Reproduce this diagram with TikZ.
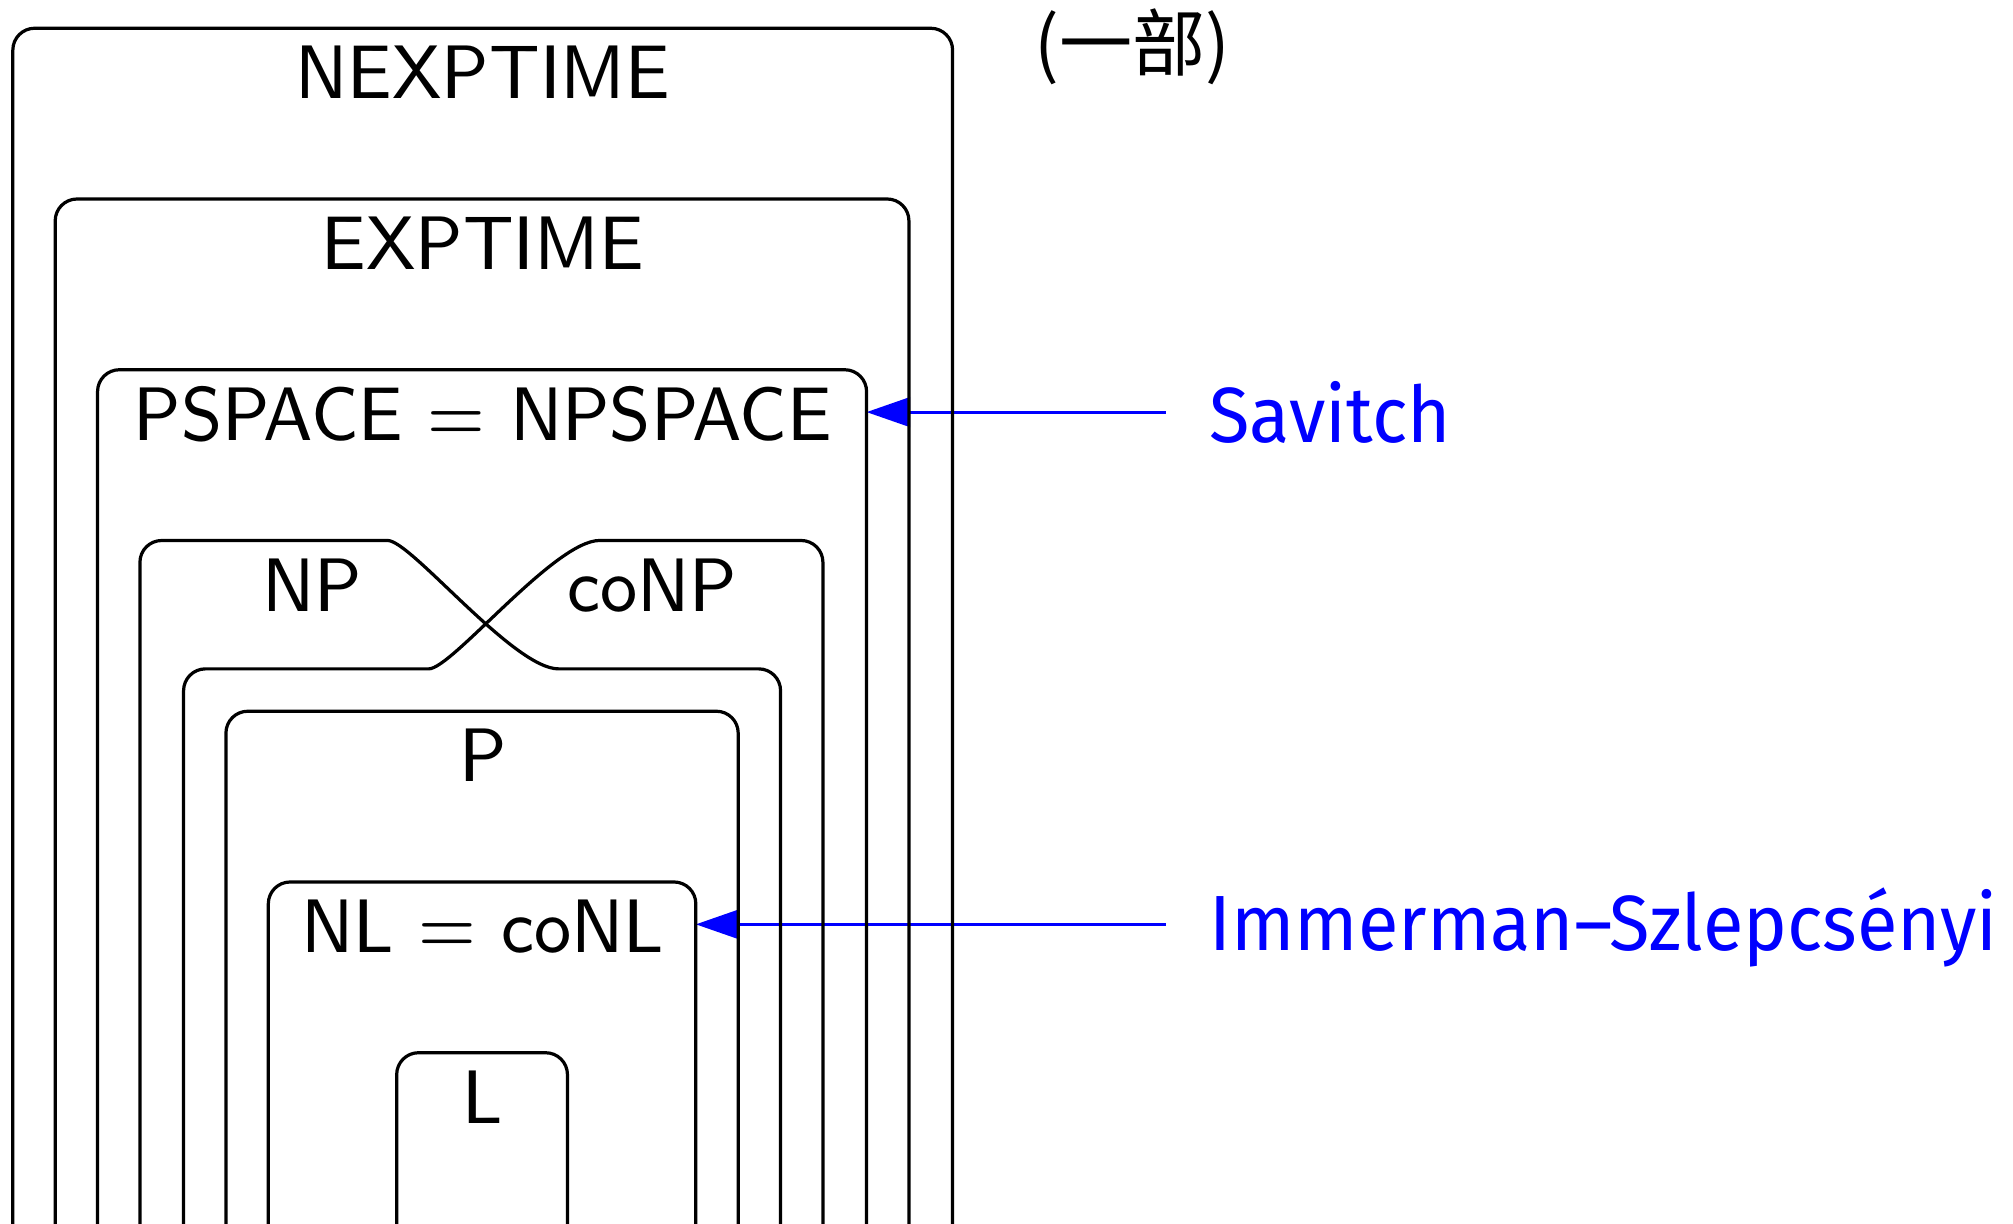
\documentclass[tikz,border=0pt]{standalone}
\usepackage{fontspec}
\usepackage{graphicx}
\usetikzlibrary{arrows.meta}
\newfontfamily\thmfont{Fira Sans}
\newfontfamily\cjkfont{Noto Sans CJK SC}
\tikzset{
  classline/.style={line width=2.5pt},
  roundbox/.style={classline, rounded corners=17pt},
  classname/.style={anchor=base, inner sep=0pt,
    font=\sffamily\fontsize{8}{9.6}\selectfont,
    xscale=6.8, yscale=7.375, transform shape},
  thmname/.style={anchor=base west, inner sep=0pt, text=blue,
    font=\thmfont\fontsize{61}{72}\selectfont},
  thmarrow/.style={blue, line width=2.3pt,
    -{Triangle[length=34pt,width=23pt]}},
}
\newcommand\thmtext[1]{\scalebox{0.945}[1]{#1}}
\begin{document}
\begin{tikzpicture}[x=1pt, y=-1pt]
\useasboundingbox (0,0) rectangle (1568,953);
\clip (0,0) rectangle (1568,953);

% theorem arrows (drawn first, the class borders lie over them)
\coordinate (savTail) at (908,321);
\coordinate (pspaceEdge) at (675,321);
\coordinate (isTail) at (908,720);
\coordinate (nlEdge) at (542,720);
\draw[thmarrow] (savTail) -- (pspaceEdge);
\draw[thmarrow] (isTail) -- (nlEdge);

% nested classes, open at the bottom
\draw[roundbox] (10,960) -- (10,22) -- (742,22) -- (742,960);
\draw[roundbox] (43,960) -- (43,155) -- (708,155) -- (708,960);
\draw[roundbox] (76,960) -- (76,288) -- (675,288) -- (675,960);
% NP and coNP cross over each other
\draw[classline] (109,960) [rounded corners=17pt] -- (109,421) -- (285,421)
  [sharp corners] .. controls (320,421) and (400,521) .. (435,521)
  [rounded corners=17pt] -- (608,521) -- (608,960);
\draw[classline] (143,960) [rounded corners=17pt] -- (143,521) -- (317,521)
  [sharp corners] .. controls (352,521) and (432,421) .. (467,421)
  [rounded corners=17pt] -- (641,421) -- (641,960);
\draw[roundbox] (176,960) -- (176,554) -- (575,554) -- (575,960);
\draw[roundbox] (209,960) -- (209,687) -- (542,687) -- (542,960);
\draw[roundbox] (309,960) -- (309,820) -- (442,820) -- (442,960);

% class names
\node[classname] (nexptime) at (376,77) {NEXPTIME};
\node[classname] (exptime) at (376,210) {EXPTIME};
\node[classname] (pspace) at (376,343) {PSPACE = NPSPACE};
\node[classname] (np) at (243,476) {NP};
\node[classname] (conp) at (508,476) {coNP};
\node[classname] (p) at (376,609) {P};
\node[classname] (nl) at (376,742) {NL = coNL};
\node[classname] (l) at (376,875) {L};

\node[anchor=base, inner sep=0pt, font=\cjkfont\fontsize{57}{68}\selectfont]
  (part) at (882,55) {(一部)};

% theorem names
\node[thmname] (savitch) at (942,345) {\thmtext{Savitch}};
\node[thmname] (immsz) at (942,740) {\thmtext{Immerman–Szlepcsényi}};
\end{tikzpicture}
\end{document}
